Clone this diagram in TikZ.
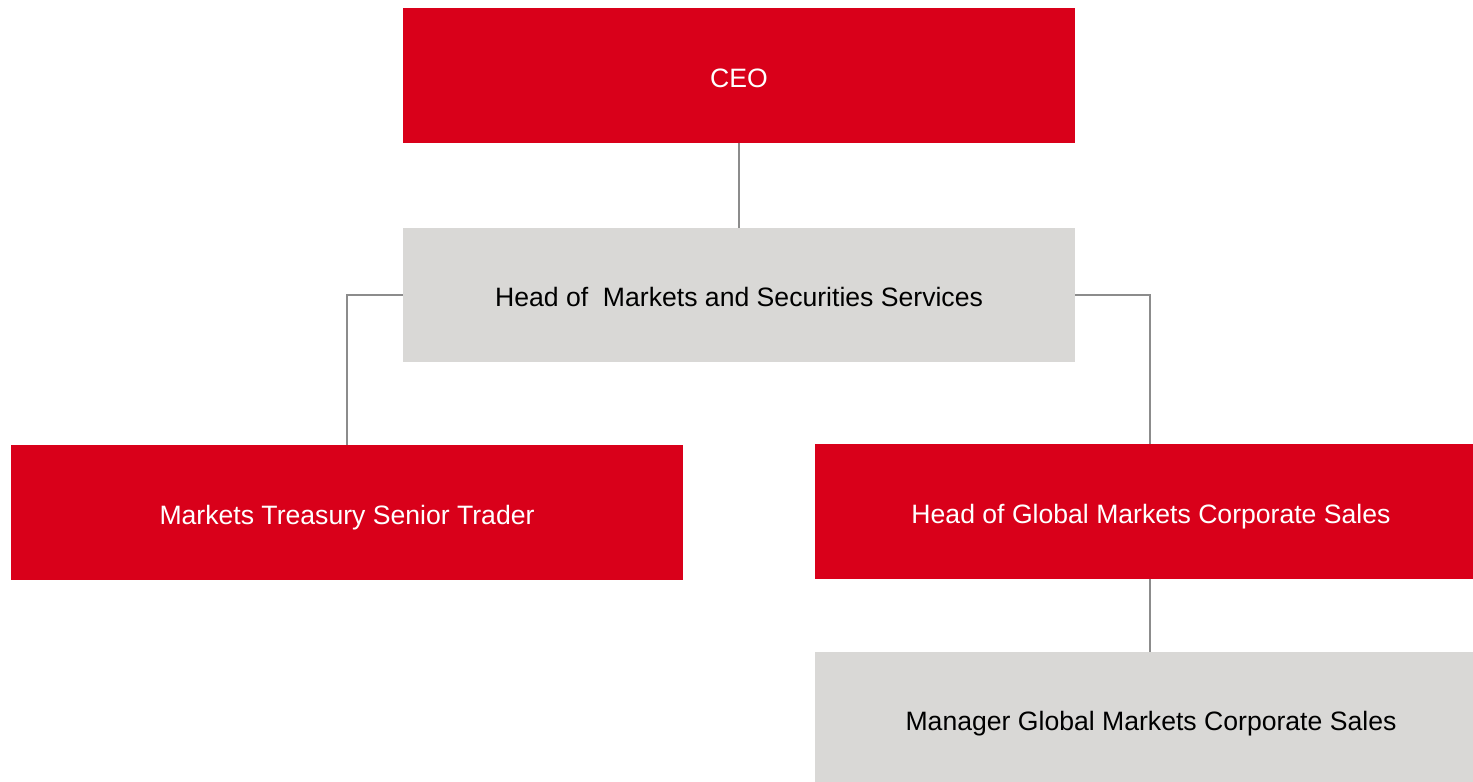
\documentclass[tikz,border=0pt]{standalone}
\usepackage{fontspec}
\setmainfont{Liberation Sans}
\usetikzlibrary{positioning}
\definecolor{bankred}{HTML}{D9001A}
\definecolor{boxgray}{HTML}{D9D8D6}
\definecolor{linegray}{HTML}{8C8C8C}

\begin{document}
\begin{tikzpicture}
[x=1pt,y=-1pt,%
  redBox/.style={shape=rectangle,fill=bankred,text=white,inner sep=0pt,
    text height=23pt,text depth=0pt,
    minimum width=672pt,minimum height=135pt,font=\fontsize{26.6}{32}\selectfont},%
  grayBox/.style={shape=rectangle,fill=boxgray,text=black,inner sep=0pt,
    text height=23pt,text depth=0pt,
    minimum width=672pt,minimum height=134pt,font=\fontsize{26.6}{32}\selectfont},%
  lineDecorate/.style={-,draw=linegray,line width=2pt}]
\useasboundingbox (0,0) rectangle (1473,782);
\clip (0,0) rectangle (1473,782);
%% boxes
\node (ceo) at (739,75.5) [redBox] {CEO};
\node (head) at (739,295) [grayBox] {Head of~ Markets and Securities Services};
\node (trader) at (347,512.5) [redBox] {Markets Treasury Senior Trader};
\node (sales) at (1151,511.5) [redBox] {Head of Global Markets Corporate Sales};
\node (manager) at (1151,719) [grayBox] {Manager Global Markets Corporate Sales};
%% lines
\draw[lineDecorate] (ceo) -- (head);
\draw[lineDecorate] (head.west) -| (trader.north);
\draw[lineDecorate] (head.east) -| ([xshift=-1pt]sales.north);
\draw[lineDecorate] ([xshift=-1pt]sales.south) -- ([xshift=-1pt]manager.north);
\end{tikzpicture}
\end{document}
